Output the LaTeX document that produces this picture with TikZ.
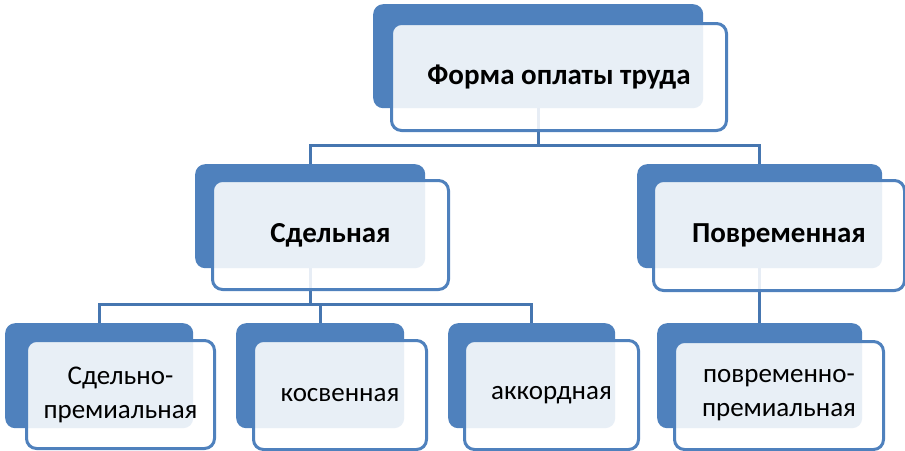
\documentclass[tikz,border=0pt]{standalone}
\usepackage{fontspec}
\setmainfont{Carlito}
\definecolor{smblue}{HTML}{4F81BD}
\definecolor{smline}{HTML}{4676B0}
\tikzset{
  backbox/.style={fill=smblue, rounded corners=10pt, anchor=north west, inner sep=0pt},
  frontbox/.style={draw=smblue, line width=3pt, fill=white, fill opacity=0.875, text opacity=1,
    rounded corners=10pt, anchor=north west, align=center, inner sep=0pt,
    font=\fontsize{27}{34}\selectfont},
  headtext/.style={font=\fontsize{29}{34}\selectfont\bfseries},
  link/.style={draw=smline, line width=3pt},
}
\begin{document}
\begin{tikzpicture}[x=1pt,y=-1pt]
	\useasboundingbox (0,0) rectangle (905,450);
	% back boxes
	\node[backbox, minimum width=330, minimum height=104] (top-b) at (373,4) {};
	\node[backbox, minimum width=230, minimum height=104] (sd-b) at (195,164) {};
	\node[backbox, minimum width=245, minimum height=104] (pv-b) at (637,164) {};
	\node[backbox, minimum width=188, minimum height=105] (sp-b) at (5,323) {};
	\node[backbox, minimum width=168, minimum height=105] (ks-b) at (236,323) {};
	\node[backbox, minimum width=167, minimum height=105] (ak-b) at (448,323) {};
	\node[backbox, minimum width=205, minimum height=105] (pp-b) at (657,323) {};
	% connectors
	\draw[link] (top-b.south) -- ++(0,37) -| (sd-b.north);
	\draw[link] (top-b.south) -- ++(0,37) -| (pv-b.north);
	\draw[link] (sd-b.south) -- ++(0,36) -| (sp-b.north);
	\draw[link] (sd-b.south) -- ++(0,36) -| (ks-b.north);
	\draw[link] (sd-b.south) -- ++(0,36) -| (ak-b.north);
	\draw[link] (pv-b.south) -- (pp-b.north);
	% front boxes
	\node[frontbox, headtext, minimum width=335, minimum height=107] (top) at (390,22) {Форма оплаты труда};
	\node[frontbox, headtext, minimum width=236, minimum height=109] (sd) at (211,179) {Сдельная};
	\node[frontbox, headtext, minimum width=251, minimum height=110] (pv) at (652,179) {Повременная};
	\node[frontbox, minimum width=188, minimum height=108] (sp) at (25,339) {Сдельно-\\премиальная};
	\node[frontbox, minimum width=173, minimum height=109] (ks) at (252,339) {косвенная};
	\node[frontbox, minimum width=174, minimum height=109] (ak) at (463,339) {аккордная};
	\node[frontbox, minimum width=209, minimum height=108] (pp) at (673,340) {повременно-\\премиальная};
\end{tikzpicture}
\end{document}
